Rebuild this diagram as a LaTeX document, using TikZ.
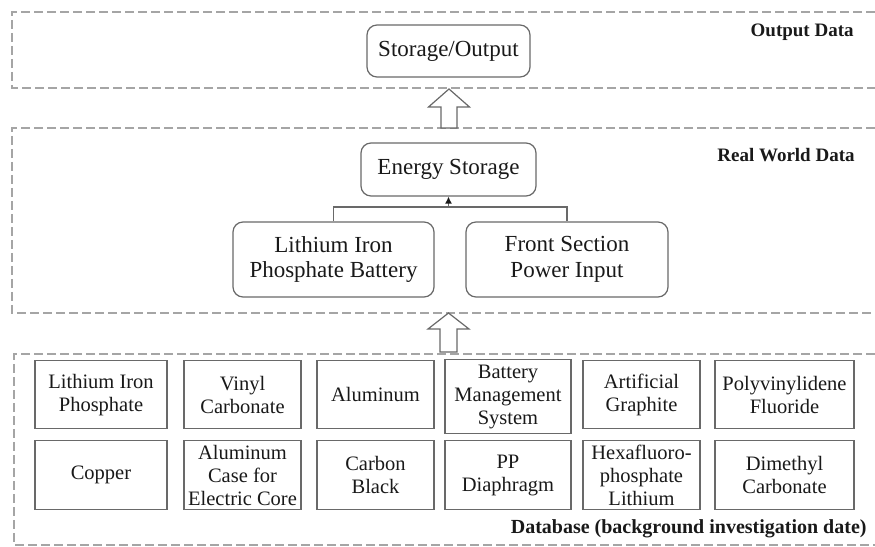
\documentclass[tikz,border=0pt]{standalone}
\usepackage{fontspec}
\setmainfont{Liberation Serif}
\usepackage{xcolor}
\usepackage{tikz}
\usetikzlibrary{arrows.meta,positioning,calc}
\definecolor{boxgray}{RGB}{105,105,105}
\definecolor{dashgray}{RGB}{165,165,165}
\definecolor{inkgray}{RGB}{25,25,25}
\tikzset{
  stage/.style={draw=boxgray, line width=0.6pt, rounded corners=5pt, align=center,
                inner sep=1pt, text=inkgray, font=\fontsize{11.5}{12.9}\selectfont},
  item/.style={draw=boxgray, line width=0.6pt, align=center, anchor=north,
               inner sep=1pt, text=inkgray, font=\fontsize{10.25}{11.5}\selectfont},
  layer/.style={anchor=east, inner sep=0pt, text=inkgray, font=\bfseries\fontsize{9.5}{11}\selectfont},
  panel/.style={draw=dashgray, line width=0.8pt, dash pattern=on 4.5pt off 2pt},
  hollow/.style={draw=boxgray, fill=white, line width=0.6pt},
  link/.style={draw=boxgray, line width=0.6pt},
  linkarrow/.style={link, -{Latex[length=3.5pt,width=3.5pt,color=inkgray]}}
}
\begin{document}
\begin{tikzpicture}[x=0.5pt, y=0.5pt]
\useasboundingbox (0,0) rectangle (875,547);

% dashed layers
\draw[panel] (875,535) -- (12,535) -- (12,459) -- (875,459);
\draw[panel] (875,419) -- (12,419) -- (12,234) -- (875,234);
\draw[panel] (875,193) -- (14,193) -- (14,2) -- (875,2);

\node[layer] (outlbl) at (854,515) {Output Data};
\node[layer] (reallbl) at (855,392) {Real World Data};
\node[layer, font=\bfseries\fontsize{10}{11}\selectfont] (dblbl) at (867,18) {Database (background investigation date)};

% output and real world nodes
\node[stage, minimum width=81.5pt, minimum height=26pt] (out) at (448.5,496) {Storage/Output};
\node[stage, minimum width=87.5pt, minimum height=26.5pt] (energy) at (448.5,377.5) {Energy Storage};
\node[stage, minimum width=100.5pt, minimum height=37.5pt] (bat) at (333.5,287.5) {Lithium Iron\\Phosphate Battery};
\node[stage, minimum width=101pt, minimum height=37.5pt] (front) at (567,287.5) {Front Section\\Power Input};

\coordinate (join) at (448.5,340);
\draw[link] (bat.north) |- (join) -| (front.north);
\draw[linkarrow] (join) -- (energy.south);

% hollow arrows between layers
\coordinate (lift1) at (449,419);
\draw[hollow] ($(lift1)+(-8,0)$) -- ++(0,21) -- ++(-12.5,0) -- ++(20.5,18)
  -- ++(20.5,-18) -- ++(-12.5,0) -- ++(0,-21) -- cycle;
\coordinate (lift2) at (448.5,195);
\draw[hollow] ($(lift2)+(-8.5,0)$) -- ++(0,23) -- ++(-12,0) -- ++(20.5,16)
  -- ++(20.5,-16) -- ++(-12,0) -- ++(0,-23) -- cycle;

% database items, first row
\node[item, minimum width=66pt, minimum height=34pt] (lfp) at (101,187) {Lithium Iron\\Phosphate};
\node[item, minimum width=58.5pt, minimum height=34pt] (vc) at (242.5,187) {Vinyl\\Carbonate};
\node[item, minimum width=58.5pt, minimum height=34pt] (alu) at (375.5,187) {Aluminum};
\node[item, minimum width=63pt, minimum height=37pt] (bms) at (508,188) {Battery\\Management\\System};
\node[item, minimum width=58.5pt, minimum height=34pt] (graph) at (641.5,187) {Artificial\\Graphite};
\node[item, minimum width=69.5pt, minimum height=34pt] (pvdf) at (784.5,187) {Polyvinylidene\\Fluoride};

% database items, second row
\node[item, minimum width=66pt, minimum height=34.5pt] (cu) at (101,107) {Copper};
\node[item, minimum width=58.5pt, minimum height=34.5pt] (case) at (242.5,107) {Aluminum\\Case for\\Electric Core};
\node[item, minimum width=58.5pt, minimum height=34.5pt] (cb) at (375.5,107) {Carbon\\Black};
\node[item, minimum width=63pt, minimum height=34.5pt] (pp) at (508,107) {PP\\Diaphragm};
\node[item, minimum width=58.5pt, minimum height=34.5pt] (lipf) at (641.5,107) {Hexafluoro-\\phosphate\\Lithium};
\node[item, minimum width=69.5pt, minimum height=34.5pt] (dmc) at (784.5,107) {Dimethyl\\Carbonate};
\end{tikzpicture}
\end{document}
